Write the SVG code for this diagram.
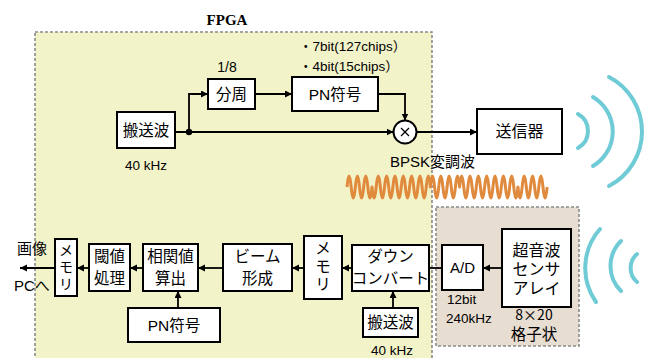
<svg xmlns="http://www.w3.org/2000/svg" width="649" height="358" viewBox="0 0 649 358">
<defs>
<style>
.box{fill:#fff;stroke:#000;stroke-width:2}
.t{font-family:"Liberation Sans","Noto Sans CJK JP",sans-serif;fill:#000}
.bt{font-size:15.5px;text-anchor:middle}
.sm{font-size:13.5px}
.ln{fill:none;stroke:#000;stroke-width:1.8}
.arc{fill:none;stroke:#6fcbd6;stroke-width:4;stroke-linecap:round}
.frame{stroke:#8a8a8a;stroke-width:1.6;stroke-dasharray:3 2}
</style>
<marker id="ah" markerUnits="userSpaceOnUse" markerWidth="8" markerHeight="8" refX="7" refY="3.5" orient="auto">
<path d="M0,0 L7,3.5 L0,7 z" fill="#000"/>
</marker>
</defs>
<rect width="649" height="358" fill="#fff"/>
<g id="fpga">
<rect x="35" y="32" width="397" height="340" fill="#f3f3c9" class="frame"/>
<text x="227" y="25" font-family="Liberation Serif,serif" font-weight="bold" font-size="15" text-anchor="middle">FPGA</text>
</g>
<g id="sensor-area">
<rect x="436" y="207" width="143" height="139" fill="#e7ddd1" class="frame"/>
</g>
<g id="wave">
<path d="M347,187 q2.08,-22 4.17,0 t4.17,0 t4.17,0 t4.17,0 t4.17,0 t4.17,0 q2.08,22 4.17,0 t4.17,0 t4.17,0 t4.17,0 t4.17,0 t4.17,0 t4.17,0 t4.17,0 t4.17,0 t4.17,0 t4.17,0 t4.17,0 t4.17,0 t4.17,0 q2.08,-22 4.17,0 t4.17,0 t4.17,0 t4.17,0 t4.17,0 t4.17,0 t4.17,0 q2.08,-22 4.17,0 t4.17,0 t4.17,0 t4.17,0 t4.17,0 t4.17,0 t4.17,0 t4.17,0 t4.17,0 t4.17,0 t4.17,0 t4.17,0 t4.17,0 t4.17,0 q2.08,22 4.17,0 t4.17,0 t4.17,0 t4.17,0 t4.17,0 t4.17,0 t4.17,0" fill="none" stroke="#e08a3e" stroke-width="3" stroke-linejoin="round"/>
</g>
<g id="tx-arcs">
<path class="arc" d="M578,114 A19.5,19.5 0 0 1 578,148"/>
<path class="arc" d="M593,97 A40,40 0 0 1 593,166"/>
<path class="arc" d="M609,77 A61.5,61.5 0 0 1 609,186"/>
</g>
<g id="rx-arcs">
<path class="arc" d="M600,229 A59,59 0 0 0 596,302"/>
<path class="arc" d="M621,241 A35,35 0 0 0 621,291"/>
<path class="arc" d="M637,254 A18.5,18.5 0 0 0 637,282"/>
</g>
<g id="connectors">
<path class="ln" d="M175,132 H393.5" marker-end="url(#ah)"/>
<path class="ln" d="M189,132 V94 H208" marker-end="url(#ah)"/>
<path class="ln" d="M255,94 H292" marker-end="url(#ah)"/>
<path class="ln" d="M378,94 H405 V120.5" marker-end="url(#ah)"/>
<path class="ln" d="M416.5,132 H477" marker-end="url(#ah)"/>
<circle cx="189" cy="132" r="3.2" fill="#000"/>
<path class="ln" d="M502,268 H483" marker-end="url(#ah)"/>
<path class="ln" d="M442,268 H429"/>
<path class="ln" d="M352,268 H342" marker-end="url(#ah)"/>
<path class="ln" d="M304,268 H292" marker-end="url(#ah)"/>
<path class="ln" d="M223,268 H198" marker-end="url(#ah)"/>
<path class="ln" d="M143,268 H130" marker-end="url(#ah)"/>
<path class="ln" d="M89,268 H77" marker-end="url(#ah)"/>
<path class="ln" d="M55,268 H20" marker-end="url(#ah)"/>
<path class="ln" d="M178,308 V291" marker-end="url(#ah)"/>
<path class="ln" d="M393,308 V291" marker-end="url(#ah)"/>
</g>
<g id="carrier-top">
<rect class="box" x="117" y="112" width="58" height="36"/>
<text class="t bt" x="146" y="136">搬送波</text>
<text class="t sm" x="146" y="170" text-anchor="middle">40 kHz</text>
</g>
<g id="divider">
<rect class="box" x="208" y="79" width="47" height="30"/>
<text class="t bt" x="231.5" y="99.5">分周</text>
<text class="t" font-size="14" x="227" y="72" text-anchor="middle">1/8</text>
</g>
<g id="pn-top">
<rect class="box" x="292" y="77" width="86" height="34"/>
<text class="t bt" x="335" y="99.5">PN符号</text>
<text class="t" font-size="13.5" x="299" y="51">・7bit(127chips）</text>
<text class="t" font-size="13.5" x="299" y="71">・4bit(15chips）</text>
</g>
<g id="multiplier">
<circle cx="405" cy="132" r="11.5" fill="#fff" stroke="#000" stroke-width="2"/>
<path d="M401,128 L409,136 M409,128 L401,136" stroke="#000" stroke-width="1.3"/>
<text class="t" font-size="15" x="390" y="167">BPSK変調波</text>
</g>
<g id="transmitter">
<rect class="box" x="477" y="109" width="85" height="45"/>
<text class="t" font-size="16" x="519.5" y="137" text-anchor="middle">送信器</text>
</g>
<g id="sensor">
<rect class="box" x="502" y="229" width="69" height="78"/>
<text class="t" font-size="16" x="536.5" y="256" text-anchor="middle">超音波</text>
<text class="t" font-size="16" x="536.5" y="275" text-anchor="middle">センサ</text>
<text class="t" font-size="16" x="536.5" y="294" text-anchor="middle">アレイ</text>
<text font-family="Noto Sans CJK JP,sans-serif" font-size="14" x="534" y="320" text-anchor="middle">8×20</text>
<text class="t" font-size="15.5" x="534" y="340" text-anchor="middle">格子状</text>
</g>
<g id="ad">
<rect class="box" x="442" y="245" width="41" height="45"/>
<text class="t" font-size="15" x="462.5" y="273" text-anchor="middle">A/D</text>
<text class="t sm" x="447" y="304">12bit</text>
<text class="t sm" x="446" y="323">240kHz</text>
</g>
<g id="downconvert">
<rect class="box" x="352" y="245" width="77" height="46"/>
<text class="t bt" x="390.5" y="262">ダウン</text>
<text class="t bt" x="390.5" y="284">コンバート</text>
</g>
<g id="carrier-bottom">
<rect class="box" x="363" y="308" width="55" height="29"/>
<text class="t bt" x="390.5" y="328">搬送波</text>
<text class="t sm" x="392" y="355" text-anchor="middle">40 kHz</text>
</g>
<g id="memory2">
<rect class="box" x="304" y="236" width="38" height="63"/>
<text class="t bt" x="323" y="254">メ</text>
<text class="t bt" x="323" y="272">モ</text>
<text class="t bt" x="323" y="290">リ</text>
</g>
<g id="beamform">
<rect class="box" x="223" y="244" width="69" height="47"/>
<text class="t bt" x="257.5" y="262">ビーム</text>
<text class="t bt" x="257.5" y="284">形成</text>
</g>
<g id="correlation">
<rect class="box" x="143" y="244" width="55" height="47"/>
<text class="t bt" x="170.5" y="262">相関値</text>
<text class="t bt" x="170.5" y="284">算出</text>
</g>
<g id="pn-bottom">
<rect class="box" x="128" y="308" width="92" height="34"/>
<text class="t bt" x="174" y="330.5">PN符号</text>
</g>
<g id="threshold">
<rect class="box" x="89" y="244" width="41" height="47"/>
<text class="t bt" x="109.5" y="262">閾値</text>
<text class="t bt" x="109.5" y="284">処理</text>
</g>
<g id="memory1">
<rect class="box" x="55" y="239" width="22" height="57"/>
<text class="t" font-size="14" x="66" y="255" text-anchor="middle">メ</text>
<text class="t" font-size="14" x="66" y="272" text-anchor="middle">モ</text>
<text class="t" font-size="14" x="66" y="289" text-anchor="middle">リ</text>
</g>
<g id="output-label">
<text class="t" font-size="15" x="17" y="254">画像</text>
<text class="t" font-size="15" x="14" y="291">PCへ</text>
</g>
</svg>
